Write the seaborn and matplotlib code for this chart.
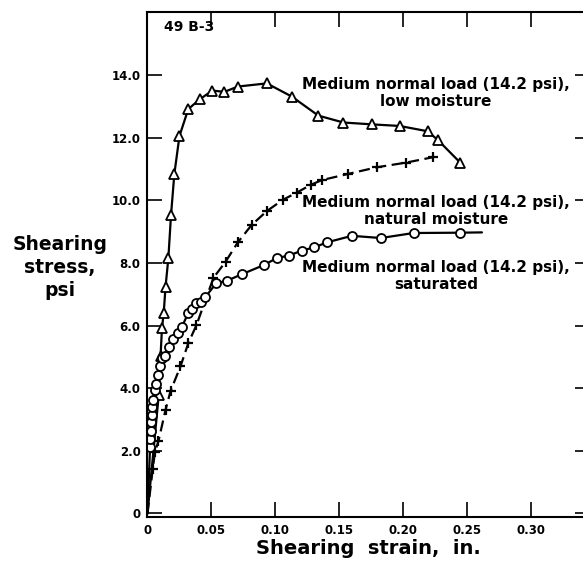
import matplotlib
matplotlib.use("Agg")
import matplotlib.pyplot as plt
import seaborn as sns
import pandas as pd
import numpy as np

# ---- data ----
low_x = [0.0, 0.0088, 0.0102, 0.0113, 0.0127, 0.0141, 0.0163, 0.0184, 0.0210, 0.0250,
         0.0319, 0.0411, 0.0507, 0.0601, 0.0708, 0.0933, 0.1128, 0.1336, 0.1532,
         0.1759, 0.1972, 0.2191, 0.2273, 0.2445]
low_y = [0.0, 3.79, 5.02, 5.91, 6.42, 7.24, 8.15, 9.54, 10.85, 12.06,
         12.92, 13.24, 13.51, 13.47, 13.64, 13.74, 13.32, 12.71, 12.49,
         12.43, 12.38, 12.21, 11.92, 11.21]

nat_x = [0.0, 0.0041, 0.0059, 0.0085, 0.0141, 0.0180, 0.0258, 0.0319, 0.0383, 0.0516,
         0.0610, 0.0706, 0.0815, 0.0933, 0.1058, 0.1167, 0.1277, 0.1363, 0.1571,
         0.1793, 0.2023, 0.2230]
nat_y = [0.0, 1.42, 1.98, 2.30, 3.31, 3.91, 4.70, 5.44, 6.02, 7.53,
         8.04, 8.66, 9.22, 9.66, 10.02, 10.25, 10.50, 10.65, 10.85,
         11.06, 11.21, 11.38]

sat_x = [0.0, 0.0020, 0.0022, 0.0026, 0.0029, 0.0032, 0.0038, 0.0041, 0.0059, 0.0070,
         0.0085, 0.0098, 0.0117, 0.0133, 0.0172, 0.0202, 0.0235, 0.0270, 0.0317,
         0.0348, 0.0383, 0.0415, 0.0450, 0.0536, 0.0624, 0.0742, 0.0912, 0.1011,
         0.1107, 0.1206, 0.1303, 0.1402, 0.1598, 0.1825, 0.2080, 0.2440, 0.2615]
sat_y = [0.0, 2.12, 2.38, 2.64, 2.92, 3.16, 3.40, 3.63, 3.95, 4.15,
         4.42, 4.71, 4.98, 5.03, 5.32, 5.58, 5.75, 5.97, 6.39,
         6.53, 6.73, 6.77, 6.90, 7.35, 7.44, 7.65, 7.94, 8.16,
         8.24, 8.40, 8.50, 8.66, 8.87, 8.80, 8.96, 8.97, 8.98]

x_ticks = [0, 0.05, 0.10, 0.15, 0.20, 0.25, 0.30]
x_tick_labels = ["0", "0.05", "0.10", "0.15", "0.20", "0.25", "0.30"]
y_ticks = [0, 2, 4, 6, 8, 10, 12, 14]
y_tick_labels = ["0", "2.0", "4.0", "6.0", "8.0", "10.0", "12.0", "14.0"]

labels = ["Medium normal load (14.2 psi),\nlow moisture",
          "Medium normal load (14.2 psi),\nnatural moisture",
          "Medium normal load (14.2 psi),\nsaturated"]

sns.set_style("ticks")
plt.rcParams['font.family'] = ['DejaVu Sans']
plt.rcParams['text.color'] = 'black'
plt.rcParams['axes.labelcolor'] = 'black'
plt.rcParams['xtick.color'] = 'black'
plt.rcParams['ytick.color'] = 'black'

fig = plt.figure(figsize=(5.83, 5.63), dpi=100)
ax = fig.add_axes([0.253, 0.0824, 0.759, 0.8968])

df_low = pd.DataFrame({"x": low_x, "y": low_y})
df_nat = pd.DataFrame({"x": nat_x, "y": nat_y})
df_sat = pd.DataFrame({"x": sat_x, "y": sat_y})

lw = 1.6
# lines
sns.lineplot(data=df_low, x="x", y="y", sort=False, estimator=None, ax=ax,
             color="black", linewidth=lw)
sns.lineplot(data=df_nat, x="x", y="y", sort=False, estimator=None, ax=ax,
             color="black", linewidth=lw, dashes=False, linestyle=(0, (5, 2.5)))
sns.lineplot(data=df_sat, x="x", y="y", sort=False, estimator=None, ax=ax,
             color="black", linewidth=lw)
# markers (skip origin)
ax.plot(low_x[1:], low_y[1:], linestyle="none", marker="^", markersize=6.5,
        markerfacecolor="white", markeredgecolor="black", markeredgewidth=1.3)
ax.plot(nat_x[1:], nat_y[1:], linestyle="none", marker="+", markersize=6.5,
        color="black", markeredgewidth=1.6)
ax.plot(sat_x[1:-1], sat_y[1:-1], linestyle="none", marker="o", markersize=6.5,
        markerfacecolor="white", markeredgecolor="black", markeredgewidth=1.3)

ax.set_xlim(0, 0.346)
ax.set_ylim(-0.1, 16.03)
ax.set_xticks(x_ticks)
ax.set_xticklabels(x_tick_labels)
ax.set_yticks(y_ticks)
ax.set_yticklabels(y_tick_labels)
ax.tick_params(direction="in", length=11, width=1.2, top=True, right=True,
               labelsize=8.5, pad=5, colors="black")
for lab in ax.get_xticklabels() + ax.get_yticklabels():
    lab.set_fontweight("bold")
for s in ax.spines.values():
    s.set_linewidth(1.5)
    s.set_color("black")

ax.set_xlabel("Shearing  strain,  in.", fontsize=14, fontweight="bold", labelpad=2,
              color="black")
ax.set_ylabel("")
fig.text(0.103, 0.525, "Shearing\nstress,\npsi", ha="center", va="center",
         fontsize=13.5, fontweight="bold", linespacing=1.25, color="black")

ax.text(0.013, 15.55, "49 B-3", fontsize=10, fontweight="bold", va="center", ha="left",
        color="black")

for lab, yc in zip(labels, [13.43, 9.66, 7.59]):
    ax.text(0.2257, yc, lab, ha="center", va="center", fontsize=11,
            fontweight="bold", linespacing=1.15, color="black")

fig.savefig("out.png", dpi=100, facecolor="white")
